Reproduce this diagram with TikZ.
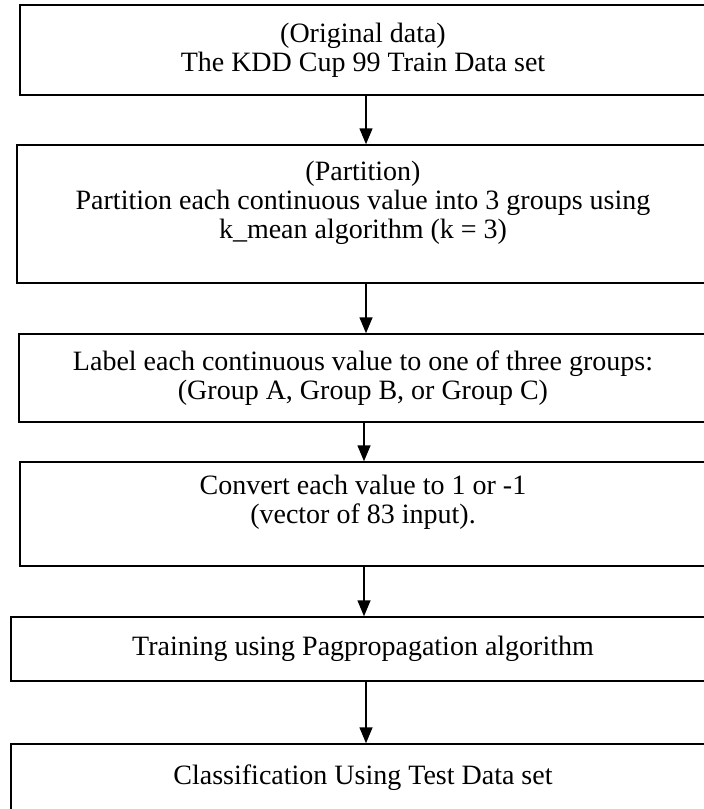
\documentclass[tikz,border=0pt]{standalone}
\usepackage{fontspec}
\setmainfont{Liberation Serif}
\usetikzlibrary{arrows.meta}

\tikzset{
    stepbox/.style={draw, line width=0.75pt, inner sep=0pt, align=center,
        font=\fontsize{14pt}{14.5pt}\selectfont},
    flow/.style={line width=0.75pt, -{Triangle[length=8pt,width=6.5pt]}}
}

\begin{document}
\begin{tikzpicture}[x=0.5pt,y=-0.5pt]
            \clip (0,0) rectangle (704,809);

            \node[stepbox, minimum width=343pt, minimum height=45pt] (b1) at (363,50)
                {(Original data)\\The KDD Cup 99 Train Data set};
            \node[stepbox, minimum width=346pt, minimum height=69pt] (b2) at (363,214)
                {(Partition)\\Partition each continuous value into 3 groups using\\k\_mean algorithm (k = 3)\\\mbox{}};
            \node[stepbox, minimum width=344pt, minimum height=44pt] (b3) at (363,378)
                {Label each continuous value to one of three groups:\\(Group A, Group B, or Group C)};
            \node[stepbox, minimum width=343pt, minimum height=52pt] (b4) at (363,514)
                {Convert each value to 1 or -1\\(vector of 83 input).\\\mbox{}};
            \node[stepbox, minimum width=352pt, minimum height=32pt] (b5) at (363,649)
                {Training using Pagpropagation algorithm};
            \node[stepbox, minimum width=352pt, minimum height=45pt] (b6) at (363,789)
                {Classification Using Test Data set\\\mbox{}};

            \draw[flow] ([xshift=1.5pt]b1.south) -- ([xshift=1.5pt]b2.north);
            \draw[flow] ([xshift=1.5pt]b2.south) -- ([xshift=1.5pt]b3.north);
            \draw[flow] ([xshift=0.5pt]b3.south) -- ([xshift=0.5pt]b4.north);
            \draw[flow] ([xshift=0.5pt]b4.south) -- ([xshift=0.5pt]b5.north);
            \draw[flow] ([xshift=1.5pt]b5.south) -- ([xshift=1.5pt]b6.north);
        \end{tikzpicture}
\end{document}
